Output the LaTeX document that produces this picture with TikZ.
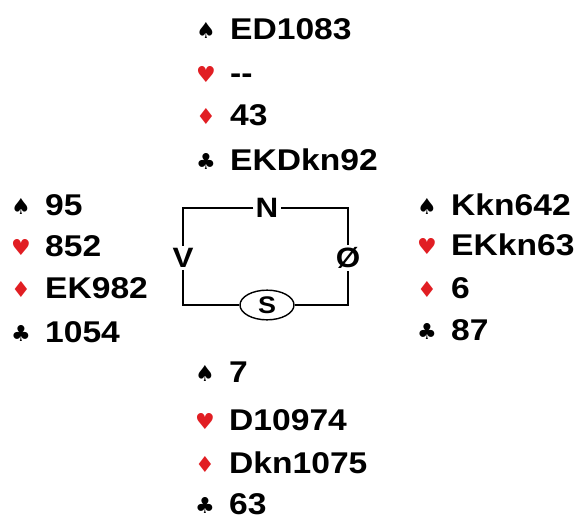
\documentclass[tikz,border=0pt]{standalone}
\usepackage{fontspec}
\setmainfont{Liberation Sans}[FakeStretch=1.12]
\newfontfamily\suitfont{DejaVu Sans}
\usetikzlibrary{shapes.geometric}
\definecolor{suitred}{RGB}{225,30,35}
\newcommand{\suitbox}[2]{\makebox[34pt][l]{\suitfont\fontsize{22}{22}\selectfont\color{#1}\raisebox{1pt}{#2}}}
\newcommand{\hspd}{\suitbox{black}{♠}}
\newcommand{\hhrt}{\suitbox{suitred}{♥}}
\newcommand{\hdmd}{\suitbox{suitred}{♦}}
\newcommand{\hclb}{\suitbox{black}{♣}}
\begin{document}
\begin{tikzpicture}[x=1pt,y=-1pt]
            \tikzstyle{every node}=[font=\fontsize{30}{30}\selectfont\bfseries, inner sep=0pt]
            \tikzstyle{hand}=[anchor=base west]
            \tikzstyle{seat}=[font=\fontsize{28}{28}\selectfont\bfseries, fill=white, inner sep=2pt]
            \useasboundingbox (0,0) rectangle (578,519);
            % Nord
            \node [hand] (nord1) at (196,40) {\hspd ED1083};
            \node [hand] (nord2) at (196,83) {\hhrt -{}-};
            \node [hand] (nord3) at (196,125) {\hdmd 43};
            \node [hand] (nord4) at (196,170) {\hclb EKDkn92};
            % Vest
            \node [hand] (vest1) at (11,215) {\hspd 95};
            \node [hand] (vest2) at (11,256) {\hhrt 852};
            \node [hand] (vest3) at (11,298) {\hdmd EK982};
            \node [hand] (vest4) at (11,342) {\hclb 1054};
            % Øst
            \node [hand] (ost1) at (417,215) {\hspd Kkn642};
            \node [hand] (ost2) at (417,255) {\hhrt EKkn63};
            \node [hand] (ost3) at (417,298) {\hdmd 6};
            \node [hand] (ost4) at (417,340) {\hclb 87};
            % Syd
            \node [hand] (syd1) at (195,382) {\hspd 7};
            \node [hand] (syd2) at (195,430) {\hhrt D10974};
            \node [hand] (syd3) at (195,473) {\hdmd Dkn1075};
            \node [hand] (syd4) at (195,514) {\hclb 63};
            % kompass
            \node [seat] (N) at (267,208) {N};
            \node [seat] (V) at (183,258) {V};
            \node [seat] (O) at (348,258) {Ø};
            \node [seat, draw, line width=1.4pt, ellipse, font=\fontsize{24}{24}\selectfont\bfseries, minimum width=54pt, minimum height=24pt] (S) at (267,305) {S};
            \draw [line width=2pt] (N.west) -| (V.north);
            \draw [line width=2pt] (V.south) |- (S.west);
            \draw [line width=2pt] (S.east) -| (O.south);
            \draw [line width=2pt] (O.north) |- (N.east);
        \end{tikzpicture}
\end{document}
